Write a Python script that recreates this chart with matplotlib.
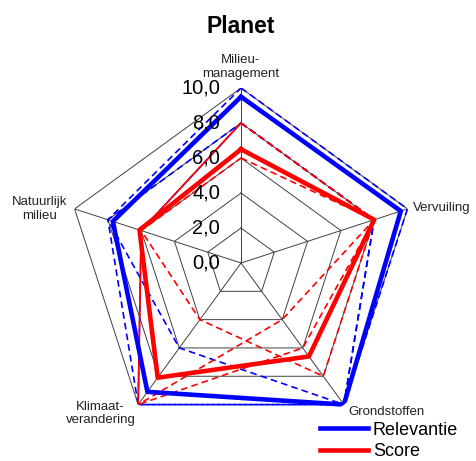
import numpy as np
import matplotlib
matplotlib.use("Agg")
import matplotlib.pyplot as plt

plt.rcParams['font.family'] = ['Liberation Sans', 'DejaVu Sans']

# categories, clockwise from the top
categories = ["Milieu-\nmanagement", "Vervuiling", "Grondstoffen", "Klimaat-\nverandering", "Natuurlijk\nmilieu"]

# main series
relevantie = [9.5, 9.6, 10.0, 9.1, 7.7]
score = [6.5, 8.0, 6.6, 8.1, 6.1]

# individual (dashed) series
relevantie_a = [10, 10, 10, 10, 8]
relevantie_b = [8, 8, 10, 6, 8]
relevantie_c = [8, 8, 10, 10, 6]
score_a = [8, 8, 4, 10, 6]
score_b = [6, 8, 8, 4, 6]
score_c = [8, 8, 6, 10, 6]

rings = [2, 4, 6, 8, 10]
ring_labels = ["0,0", "2,0", "4,0", "6,0", "8,0", "10,0"]

n = len(categories)
theta = np.linspace(0, 2 * np.pi, n, endpoint=False)
theta_c = np.append(theta, theta[0])


def closed(vals):
    return np.append(vals, vals[0])


fig = plt.figure(figsize=(4.76, 4.61), dpi=100)
ax = fig.add_axes([0.1387, 0.0499, 0.7353, 0.7592], projection="polar")
ax.set_theta_offset(np.pi / 2)
ax.set_theta_direction(-1)
ax.set_ylim(0, 10)
ax.grid(False)
ax.spines["polar"].set_visible(False)
ax.set_xticks([])
ax.set_yticks([])
ax.patch.set_alpha(0)

# pentagon grid and spokes
for r in rings:
    ax.plot(theta_c, [r] * (n + 1), color="#404040", lw=0.7, zorder=1)
for t in theta:
    ax.plot([t, t], [0, 10], color="#404040", lw=0.7, zorder=1)

# ring value labels left of the top spoke
for i, lab in enumerate(ring_labels):
    ax.annotate(lab, (0, i * 2), xytext=(-15, 0), textcoords="offset points",
                ha="right", va="center", fontsize=14.5, color="black", zorder=5)

# dashed individual lines
dash = (4, 2.5)
for vals in [relevantie_a, relevantie_b, relevantie_c]:
    ax.plot(theta_c, closed(vals), color="#0000FF", lw=1.2, dashes=dash, zorder=2)
for vals in [score_a, score_b, score_c]:
    ax.plot(theta_c, closed(vals), color="#FF0000", lw=1.2, dashes=dash, zorder=2)

# solid main lines
l1, = ax.plot(theta_c, closed(relevantie), color="#0000FF", lw=3.3, zorder=3, label="Relevantie")
l2, = ax.plot(theta_c, closed(score), color="#FF0000", lw=3.3, zorder=3, label="Score")

# category labels
offsets = [((0, 6), "center", "bottom"),
           ((4, 1), "left", "center"),
           ((3, -1), "left", "top"),
           ((-2, -6.5), "right", "center"),
           ((-5, 0), "right", "center")]
for t, lab, (off, ha, va) in zip(theta, categories, offsets):
    ax.annotate(lab, (t, 10), xytext=off, textcoords="offset points",
                ha=ha, va=va, fontsize=9.5, color="#222222", multialignment="center",
                linespacing=1.15, annotation_clip=False)

fig.text(0.506, 0.942, "Planet", ha="center", va="center", fontsize=16.5, fontweight="bold")

fig.legend(handles=[l1, l2], loc="lower right", bbox_to_anchor=(0.985, -0.022),
           frameon=False, fontsize=13, handlelength=2.65, handletextpad=0.25,
           labelspacing=0.25, borderaxespad=0.2)

fig.savefig("out.png", dpi=100)
